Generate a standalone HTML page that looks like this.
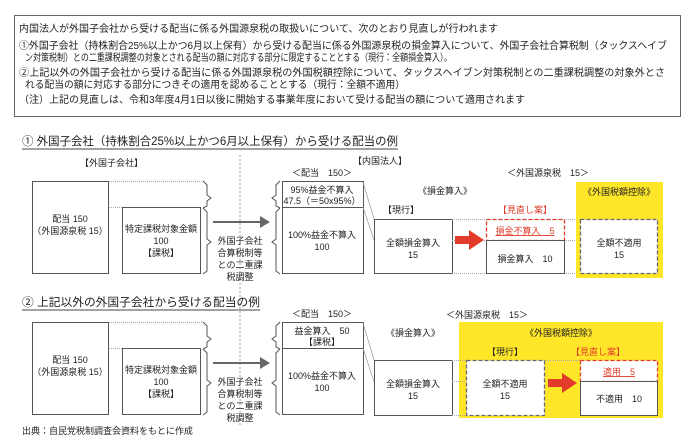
<!DOCTYPE html>
<html><head><meta charset="utf-8"><style>
html,body{margin:0;padding:0;background:#fff;}
svg{display:block;font-family:"Liberation Sans","Noto Sans CJK JP",sans-serif;}
</style></head><body>
<svg width="691" height="442" viewBox="0 0 691 442" xmlns="http://www.w3.org/2000/svg">
<!-- top box -->
<rect x="14.5" y="15.5" width="666" height="101" fill="#fff" stroke="#666" stroke-width="1"/>
<g font-size="10" fill="#222">
<text x="19" y="32" textLength="479" lengthAdjust="spacingAndGlyphs">内国法人が外国子会社から受ける配当に係る外国源泉税の取扱いについて、次のとおり見直しが行われます</text>
<text x="19" y="49" textLength="648" lengthAdjust="spacingAndGlyphs">①外国子会社（持株割合25%以上かつ6月以上保有）から受ける配当に係る外国源泉税の損金算入について、外国子会社合算税制（タックスヘイブ</text>
<text x="25" y="61" textLength="427" lengthAdjust="spacingAndGlyphs">ン対策税制）との二重課税調整の対象とされる配当の額に対応する部分に限定することとする（現行：全額損金算入）。</text>
<text x="19" y="76" textLength="646" lengthAdjust="spacingAndGlyphs">②上記以外の外国子会社から受ける配当に係る外国源泉税の外国税額控除について、タックスヘイブン対策税制との二重課税調整の対象外とさ</text>
<text x="25" y="88" textLength="380" lengthAdjust="spacingAndGlyphs">れる配当の額に対応する部分につきその適用を認めることとする（現行：全額不適用）</text>
<text x="19" y="103" textLength="506" lengthAdjust="spacingAndGlyphs">（注）上記の見直しは、令和3年度4月1日以後に開始する事業年度において受ける配当の額について適用されます</text>
</g>

<line x1="240" y1="155" x2="240" y2="425" stroke="#999" stroke-dasharray="2,2"/>

<!-- Section 1 -->
<text x="22" y="145" font-size="11.5" fill="#222" textLength="376" lengthAdjust="spacingAndGlyphs">① 外国子会社（持株割合25%以上かつ6月以上保有）から受ける配当の例</text>
<line x1="22" y1="149" x2="398" y2="149" stroke="#444"/>
<text x="80" y="166" font-size="9" fill="#222">【外国子会社】</text>
<text x="353" y="164" font-size="9" fill="#222">【内国法人】</text>

<g stroke="#555" fill="#fff">
<rect x="32.5" y="181.5" width="76" height="92"/>
<rect x="122.5" y="207.5" width="78" height="66"/>
<rect x="282.5" y="181.5" width="81" height="26"/>
<rect x="282.5" y="207.5" width="81" height="66"/>
</g>
<g stroke="#aaa" stroke-dasharray="1,1" fill="none">
<line x1="109" y1="181.5" x2="205" y2="181.5"/>
<line x1="109" y1="207.5" x2="122" y2="207.5"/>
</g>
<g stroke="#555" fill="none">
<path d="M203,181 l4,4 v10 l4,3 l-4,3 v5 l-4,2"/>
<path d="M203,208 l4,4 v27 l4,3 l-4,3 v26 l-4,3"/>
<path d="M280,181 l-4,4 v10 l-4,3 l4,3 v5 l4,2"/>
<path d="M280,208 l-4,4 v27 l-4,3 l4,3 v26 l4,3"/>
</g>
<g font-size="9" fill="#222" text-anchor="middle">
<text x="70" y="222">配当 150</text>
<text x="70" y="234">（外国源泉税 15）</text>
<text x="161" y="232">特定課税対象金額</text>
<text x="161" y="244">100</text>
<text x="161" y="256">【課税】</text>
<text x="240" y="244">外国子会社</text>
<text x="240" y="256">合算税制等</text>
<text x="240" y="268">との二重課</text>
<text x="240" y="280">税調整</text>
<text x="322" y="176">＜配当　150＞</text>
<text x="322" y="193">95%益金不算入</text>
<text x="322" y="204">47.5（＝50x95%）</text>
<text x="322" y="238">100%益金不算入</text>
<text x="322" y="250">100</text>
</g>
<line x1="213" y1="222" x2="262" y2="222" stroke="#666" stroke-width="2"/>
<polygon points="260,216 270,222 260,228" fill="#666"/>

<g stroke="#999" stroke-width="0.7">
<line x1="363" y1="182" x2="374" y2="219"/>
<line x1="363" y1="207" x2="374" y2="240"/>
</g>
<rect x="374.5" y="219.5" width="78" height="54" fill="#fff" stroke="#555"/>
<g font-size="9" fill="#222" text-anchor="middle">
<text x="548" y="176">＜外国源泉税　15＞</text>
<text x="445" y="194">《損金算入》</text>
<text x="401" y="213">【現行】</text>
<text x="413" y="246">全額損金算入</text>
<text x="413" y="258">15</text>
</g>
<g stroke="#aaa" stroke-dasharray="1,1">
<line x1="452" y1="219.5" x2="580" y2="219.5"/>
<line x1="452" y1="240.5" x2="580" y2="240.5"/>
<line x1="452" y1="273.5" x2="580" y2="273.5"/>
</g>
<polygon points="455,236 469,236 469,230 484,240 469,250 469,244 455,244" fill="#e23b2a"/>
<rect x="486.5" y="219.5" width="78" height="21" fill="#fff" stroke="#e23b2a" stroke-width="1.3" stroke-dasharray="4,2"/>
<text x="525" y="234" font-size="9" fill="#e23b2a" text-anchor="middle" text-decoration="underline">損金不算入　5</text>
<rect x="486.5" y="240.5" width="78" height="33" fill="#fff" stroke="#555"/>
<text x="525" y="262" font-size="9" fill="#222" text-anchor="middle">損金算入　10</text>
<text x="525" y="213" font-size="9" fill="#e23b2a" text-anchor="middle">【見直し案】</text>
<rect x="576" y="182" width="87" height="96" fill="#ffe629"/>
<text x="619" y="195" font-size="9" fill="#222" text-anchor="middle">《外国税額控除》</text>
<rect x="580.5" y="219.5" width="77" height="54" fill="#fff" stroke="#667" stroke-width="1.3" stroke-dasharray="4,2"/>
<text x="619" y="246" font-size="9" fill="#222" text-anchor="middle">全額不適用</text>
<text x="619" y="258" font-size="9" fill="#222" text-anchor="middle">15</text>

<!-- Section 2 -->
<text x="22" y="306" font-size="11.5" fill="#222" textLength="238" lengthAdjust="spacingAndGlyphs">② 上記以外の外国子会社から受ける配当の例</text>
<line x1="22" y1="310" x2="260" y2="310" stroke="#444"/>
<g stroke="#555" fill="#fff">
<rect x="32.5" y="322.5" width="76" height="92"/>
<rect x="122.5" y="348.5" width="78" height="66"/>
<rect x="282.5" y="322.5" width="81" height="26"/>
<rect x="282.5" y="348.5" width="81" height="66"/>
</g>
<g stroke="#aaa" stroke-dasharray="1,1" fill="none">
<line x1="109" y1="322.5" x2="205" y2="322.5"/>
<line x1="109" y1="348.5" x2="122" y2="348.5"/>
</g>
<g stroke="#555" fill="none">
<path d="M203,322 l4,4 v10 l4,3 l-4,3 v5 l-4,2"/>
<path d="M203,349 l4,4 v27 l4,3 l-4,3 v26 l-4,3"/>
<path d="M280,322 l-4,4 v10 l-4,3 l4,3 v5 l4,2"/>
<path d="M280,349 l-4,4 v27 l-4,3 l4,3 v26 l4,3"/>
</g>
<g font-size="9" fill="#222" text-anchor="middle">
<text x="70" y="363">配当 150</text>
<text x="70" y="375">（外国源泉税 15）</text>
<text x="161" y="373">特定課税対象金額</text>
<text x="161" y="385">100</text>
<text x="161" y="397">【課税】</text>
<text x="240" y="385">外国子会社</text>
<text x="240" y="397">合算税制等</text>
<text x="240" y="409">との二重課</text>
<text x="240" y="421">税調整</text>
<text x="322" y="317">＜配当　150＞</text>
<text x="322" y="334">益金算入　50</text>
<text x="322" y="345">【課税】</text>
<text x="322" y="379">100%益金不算入</text>
<text x="322" y="391">100</text>
</g>
<line x1="213" y1="363" x2="262" y2="363" stroke="#666" stroke-width="2"/>
<polygon points="260,357 270,363 260,369" fill="#666"/>
<g stroke="#999" stroke-width="0.7">
<line x1="363" y1="323" x2="374" y2="360"/>
<line x1="363" y1="348" x2="374" y2="382"/>
</g>
<rect x="459" y="322" width="204" height="96" fill="#ffe629"/>
<g font-size="9" fill="#222" text-anchor="middle">
<text x="487" y="318">＜外国源泉税　15＞</text>
<text x="413" y="336">《損金算入》</text>
<text x="561" y="336">《外国税額控除》</text>
<text x="505" y="355">【現行】</text>
</g>
<text x="598" y="355" font-size="9" fill="#e23b2a" text-anchor="middle">【見直し案】</text>
<rect x="374.5" y="360.5" width="78" height="55" fill="#fff" stroke="#555"/>
<g stroke="#aaa" stroke-dasharray="1,1">
<line x1="452" y1="360.5" x2="466" y2="360.5"/>
<line x1="452" y1="381.5" x2="466" y2="381.5"/>
<line x1="452" y1="415.5" x2="466" y2="415.5"/>
<line x1="544" y1="360.5" x2="580" y2="360.5"/>
</g>
<text x="413" y="387" font-size="9" fill="#222" text-anchor="middle">全額損金算入</text>
<text x="413" y="399" font-size="9" fill="#222" text-anchor="middle">15</text>
<rect x="466.5" y="360.5" width="78" height="55" fill="#fff" stroke="#667" stroke-width="1.3" stroke-dasharray="4,2"/>
<text x="505" y="387" font-size="9" fill="#222" text-anchor="middle">全額不適用</text>
<text x="505" y="399" font-size="9" fill="#222" text-anchor="middle">15</text>
<polygon points="548,379 562,379 562,373 577,383 562,393 562,387 548,387" fill="#e23b2a"/>
<rect x="580.5" y="360.5" width="77" height="21" fill="#fff" stroke="#e23b2a" stroke-width="1.3" stroke-dasharray="4,2"/>
<text x="619" y="375" font-size="9" fill="#e23b2a" text-anchor="middle" text-decoration="underline">適用　5</text>
<rect x="580.5" y="381.5" width="77" height="34" fill="#fff" stroke="#555"/>
<text x="619" y="402" font-size="9" fill="#222" text-anchor="middle">不適用　10</text>

<text x="22" y="434" font-size="9" fill="#222">出典：自民党税制調査会資料をもとに作成</text>
</svg>
</body></html>
